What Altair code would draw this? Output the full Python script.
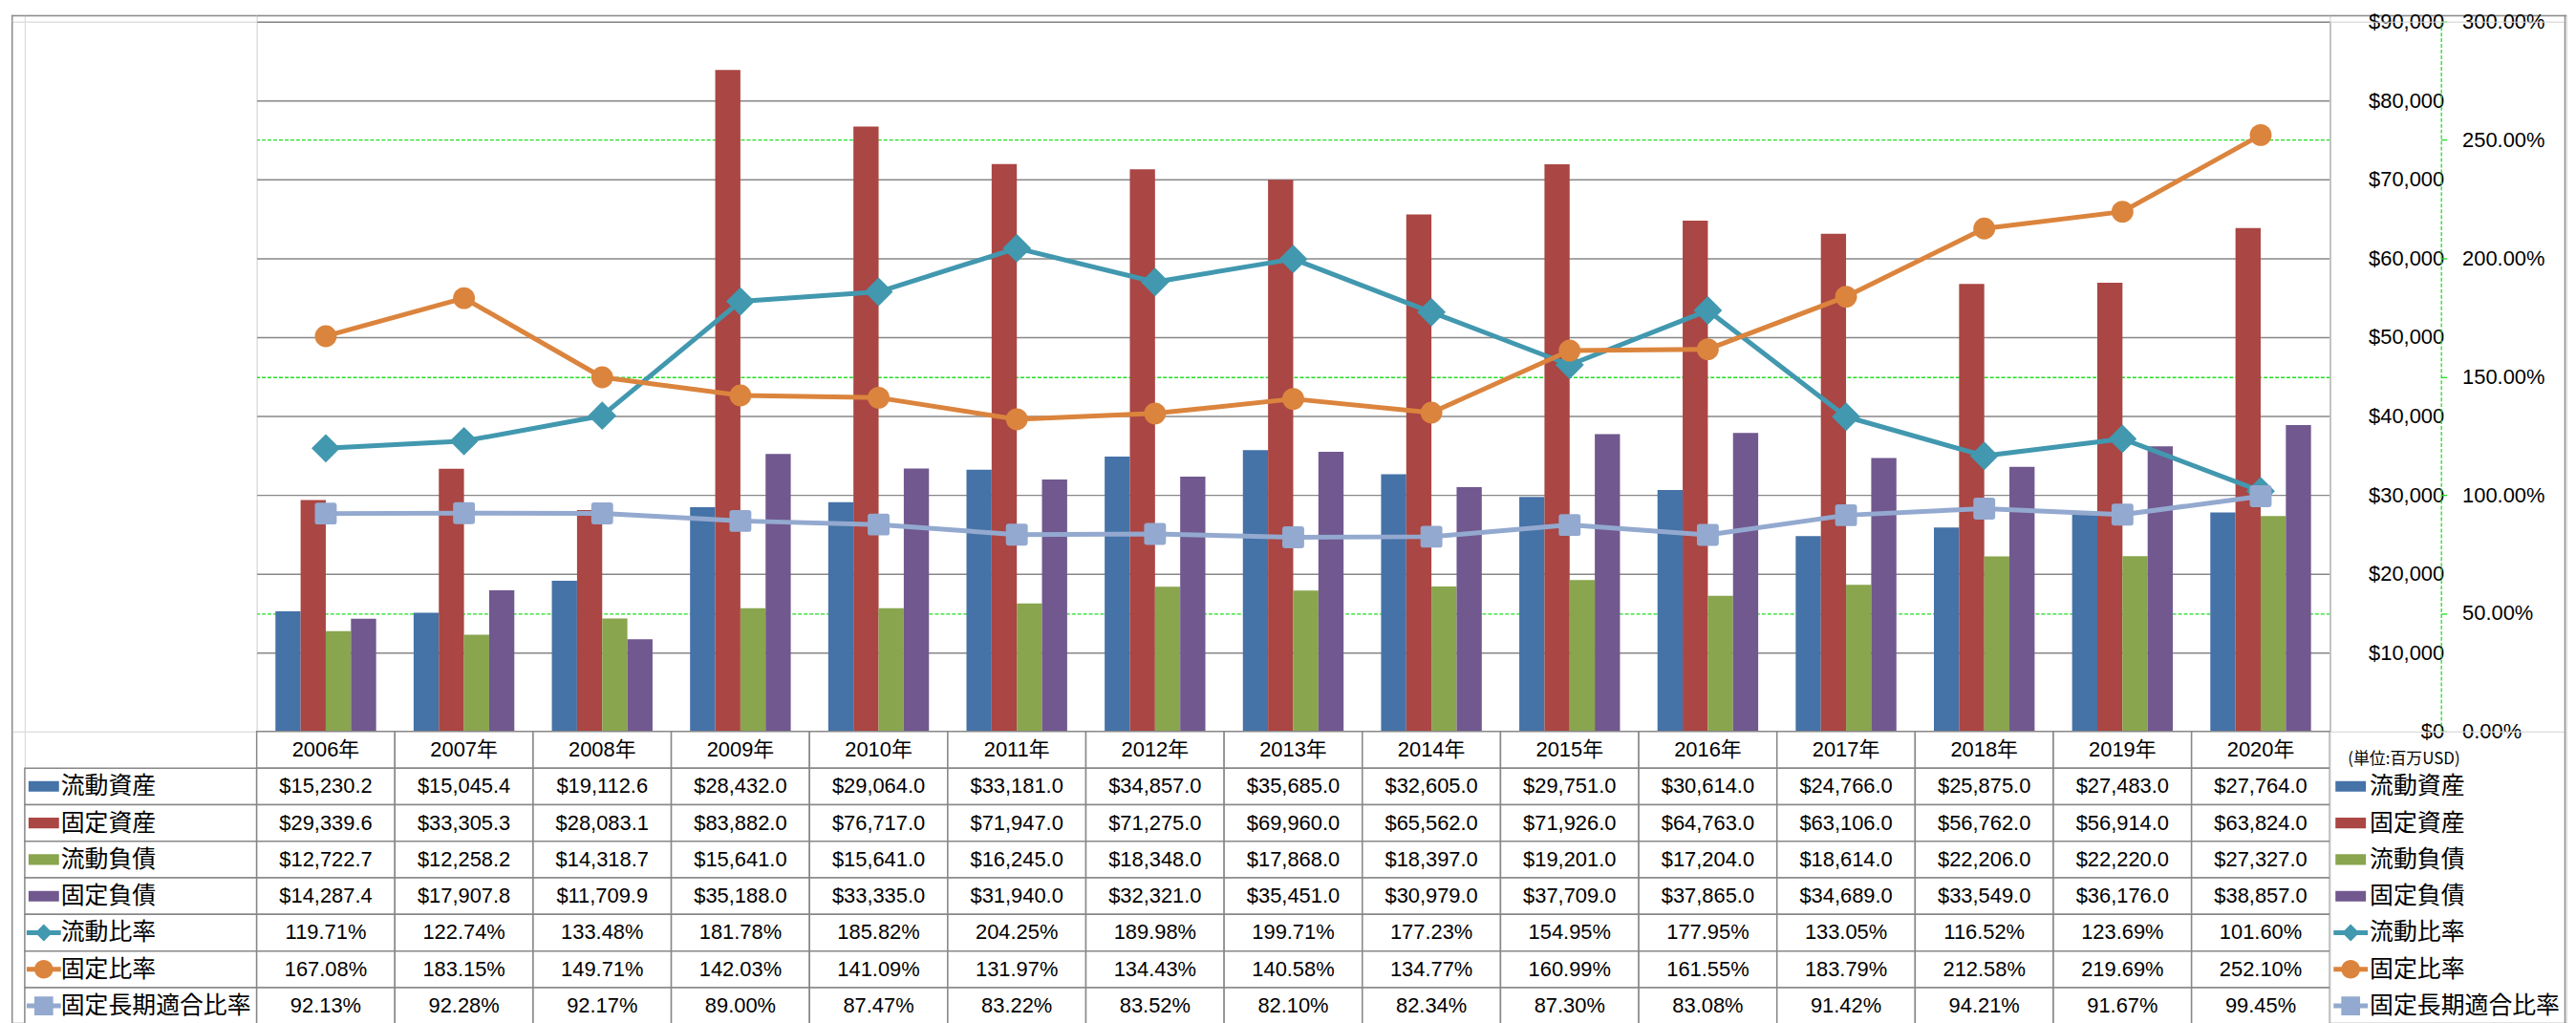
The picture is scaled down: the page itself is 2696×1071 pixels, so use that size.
import altair as alt
import pandas as pd

# ---------------- data ----------------
years = ["2006年", "2007年", "2008年", "2009年", "2010年", "2011年", "2012年", "2013年",
         "2014年", "2015年", "2016年", "2017年", "2018年", "2019年", "2020年"]

bar_series = ["流動資産", "固定資産", "流動負債", "固定負債"]
ratio_series = ["流動比率", "固定比率", "固定長期適合比率"]
all_series = bar_series + ratio_series

current_assets = [15230.2, 15045.4, 19112.6, 28432.0, 29064.0, 33181.0, 34857.0, 35685.0,
                  32605.0, 29751.0, 30614.0, 24766.0, 25875.0, 27483.0, 27764.0]
fixed_assets = [29339.6, 33305.3, 28083.1, 83882.0, 76717.0, 71947.0, 71275.0, 69960.0,
                65562.0, 71926.0, 64763.0, 63106.0, 56762.0, 56914.0, 63824.0]
current_liabilities = [12722.7, 12258.2, 14318.7, 15641.0, 15641.0, 16245.0, 18348.0, 17868.0,
                       18397.0, 19201.0, 17204.0, 18614.0, 22206.0, 22220.0, 27327.0]
fixed_liabilities = [14287.4, 17907.8, 11709.9, 35188.0, 33335.0, 31940.0, 32321.0, 35451.0,
                     30979.0, 37709.0, 37865.0, 34689.0, 33549.0, 36176.0, 38857.0]

current_ratio = [119.71, 122.74, 133.48, 181.78, 185.82, 204.25, 189.98, 199.71,
                 177.23, 154.95, 177.95, 133.05, 116.52, 123.69, 101.60]
fixed_ratio = [167.08, 183.15, 149.71, 142.03, 141.09, 131.97, 134.43, 140.58,
               134.77, 160.99, 161.55, 183.79, 212.58, 219.69, 252.10]
fixed_long_term_ratio = [92.13, 92.28, 92.17, 89.00, 87.47, 83.22, 83.52, 82.10,
                         82.34, 87.30, 83.08, 91.42, 94.21, 91.67, 99.45]

bar_values = [current_assets, fixed_assets, current_liabilities, fixed_liabilities]
ratio_values = [current_ratio, fixed_ratio, fixed_long_term_ratio]

colors = ["#4572A7", "#AA4643", "#89A54E", "#71588F", "#4198AF", "#DB843D", "#93A9CF"]
unit_label = "(単位:百万USD)"

# ---------------- tables ----------------
bar_df = pd.DataFrame([
    {"year": y, "series": s, "value": v}
    for s, vals in zip(bar_series, bar_values) for y, v in zip(years, vals)
])
ratio_df = pd.DataFrame([
    {"year": y, "series": s, "value": v / 100.0}
    for s, vals in zip(ratio_series, ratio_values) for y, v in zip(years, vals)
])

table_rows = [{"row": "hdr", "year": y, "text": y} for y in years]
for s, vals in zip(bar_series, bar_values):
    table_rows += [{"row": s, "year": y, "text": f"${v:,.1f}"} for y, v in zip(years, vals)]
for s, vals in zip(ratio_series, ratio_values):
    table_rows += [{"row": s, "year": y, "text": f"{v:.2f}%"} for y, v in zip(years, vals)]
table_df = pd.DataFrame(table_rows)

label_df = pd.DataFrame({"row": all_series, "label": all_series})
unit_df = pd.DataFrame({"row": ["hdr"], "label": [unit_label]})

# ---------------- style ----------------
FONT = "Liberation Sans, Noto Sans CJK JP"
CJK = "Noto Sans CJK JP"
GRAY = "#878787"
FRAME = "#8a8a8a"
GREEN = "#22DD22"

W = 2181      # plot width
H = 747       # plot height
TH = 308      # table height
TOP = 7
LEFT_A = 14
LEFT_B = 244
RIGHT = 249

color_scale = alt.Scale(domain=all_series, range=colors)
xscale = alt.Scale(domain=years, paddingInner=0, paddingOuter=0)
X = alt.X("year:N", scale=xscale, axis=None)

# legend swatch paths (unit box -1..1)
bar_path = "M-0.89,-0.31L0.89,-0.31L0.89,0.31L-0.89,0.31Z"
diamond_path = ("M-1,-0.14L-0.36,-0.14L0,-0.5L0.36,-0.14L1,-0.14L1,0.14L0.36,0.14"
                "L0,0.5L-0.36,0.14L-1,0.14Z")
circle_path = ("M-1,-0.14L-0.53,-0.14A0.55,0.55 0 0 1 0.53,-0.14L1,-0.14L1,0.14L0.53,0.14"
               "A0.55,0.55 0 0 1 -0.53,0.14L-1,0.14Z")
square_path = ("M-1,-0.14L-0.55,-0.14L-0.55,-0.55L0.55,-0.55L0.55,-0.14L1,-0.14L1,0.14"
               "L0.55,0.14L0.55,0.55L-0.55,0.55L-0.55,0.14L-1,0.14Z")
swatch_paths = [bar_path] * 4 + [diamond_path, circle_path, square_path]
rounded_square = ("M-0.75,-1L0.75,-1Q1,-1 1,-0.75L1,0.75Q1,1 0.75,1L-0.75,1Q-1,1 -1,0.75"
                  "L-1,-0.75Q-1,-1 -0.75,-1Z")

# ---------------- main plot ----------------
bar_axis = alt.Axis(orient="right", format="$,.0f", values=list(range(0, 90001, 10000)),
                    grid=True, gridColor=GRAY, gridWidth=1.5, gridOpacity=1,
                    domain=True, domainColor=GRAY, domainWidth=1.5,
                    ticks=False, tickSize=0, labelPadding=120, labelAlign="right",
                    labelFont=FONT, labelFontSize=22, labelColor="black", title=None)

ratio_axis = alt.Axis(orient="right", format=".2%", values=[0, 0.5, 1, 1.5, 2, 2.5, 3],
                      offset=117, grid=True, gridColor=GREEN, gridDash=[4, 2], gridWidth=1.3,
                      gridOpacity={"condition": {"test": "(datum.value * 2) % 2 == 1", "value": 1},
                                   "value": 0},
                      domain=True, domainColor=GREEN, domainDash=[4, 2],
                      domainWidth=1.3, ticks=True, tickColor=GREEN, tickSize=6, tickWidth=1.3,
                      labelPadding=16, labelAlign="left", labelFont=FONT, labelFontSize=22,
                      labelColor="black", title=None)

bars = alt.Chart(bar_df).mark_bar().encode(
    x=X,
    xOffset=alt.XOffset("series:N", scale=alt.Scale(domain=bar_series, paddingInner=0,
                                                    paddingOuter=0.745)),
    y=alt.Y("value:Q", scale=alt.Scale(domain=[0, 90000], nice=False), axis=bar_axis),
    color=alt.Color("series:N", scale=color_scale, legend=None),
)

ratio_scale = alt.Scale(domain=[0, 3], nice=False)
marker_shapes = ["diamond", "circle", rounded_square]
marker_sizes = [900, 529, 529]
ratio_layers = []
for s, shp, sz in zip(ratio_series, marker_shapes, marker_sizes):
    d = ratio_df[ratio_df["series"] == s]
    base = alt.Chart(d).encode(
        x=X,
        y=alt.Y("value:Q", scale=ratio_scale, axis=ratio_axis),
        color=alt.Color("series:N", scale=color_scale, legend=None),
    )
    ratio_layers.append(base.mark_line(strokeWidth=5, strokeJoin="round", strokeCap="round"))
    ratio_layers.append(base.mark_point(filled=True, opacity=1, shape=shp, size=sz))

ratio_chart = alt.layer(*ratio_layers)
main = alt.layer(bars, ratio_chart).resolve_scale(y="independent").properties(width=W, height=H)

# ---------------- data table ----------------
row_domain = ["hdr"] + all_series
YT = alt.Y("row:N", scale=alt.Scale(domain=row_domain, paddingInner=0, paddingOuter=0), axis=None)

cells = alt.Chart(table_df).mark_rect(fill="white", stroke=GRAY, strokeWidth=1.5).encode(x=X, y=YT)
cell_text = alt.Chart(table_df).mark_text(font=FONT, fontSize=22, color="black").encode(
    x=X, y=YT, text="text:N")
table = alt.layer(cells, cell_text).properties(width=W, height=TH)


def swatch_layers(x_sw, x_txt):
    sw = alt.Chart(label_df).mark_point(filled=True, opacity=1, size=1296).encode(
        x=alt.value(x_sw), y=YT,
        shape=alt.Shape("row:N", scale=alt.Scale(domain=all_series, range=swatch_paths), legend=None),
        color=alt.Color("row:N", scale=color_scale, legend=None),
    )
    tx = alt.Chart(label_df).mark_text(font=CJK, fontSize=25, align="left", color="black").encode(
        x=alt.value(x_txt), y=YT, text="label:N")
    return sw, tx


def frame_rules(w, h, sides):
    """Outer frame segments of the picture, for the cells on its edge."""
    out = []
    one = pd.DataFrame({"v": [0]})
    for side in sides:
        if side == "left":
            enc = dict(x=alt.value(0.75), y=alt.value(0), y2=alt.value(h))
        elif side == "right":
            enc = dict(x=alt.value(w - 1.5), y=alt.value(0), y2=alt.value(h))
        elif side == "top":
            enc = dict(y=alt.value(0.75), x=alt.value(0), x2=alt.value(w))
        else:
            enc = dict(y=alt.value(h - 0.75), x=alt.value(0), x2=alt.value(w))
        out.append(alt.Chart(one).mark_rule(color=FRAME, strokeWidth=1.5).encode(**enc))
    return out


def spacer(w, h, sides=()):
    base = alt.Chart(pd.DataFrame({"v": [0]})).mark_point(opacity=0).encode(
        x=alt.value(0), y=alt.value(0))
    return alt.layer(base, *frame_rules(w, h, sides)).properties(width=w, height=h)


label_cells = alt.Chart(label_df).mark_rect(fill="white", stroke=GRAY, strokeWidth=1.5).encode(
    x=alt.value(0), x2=alt.value(LEFT_B), y=YT)
sw_l, tx_l = swatch_layers(20, 38)
label_col = alt.layer(label_cells, sw_l, tx_l).properties(width=LEFT_B, height=TH)

sw_r, tx_r = swatch_layers(22, 42)
unit_text = alt.Chart(unit_df).mark_text(font=CJK, fontSize=17, align="left", color="black",
                                         dy=10).encode(x=alt.value(19), y=YT, text="label:N")
legend_col = alt.layer(sw_r, tx_r, unit_text, *frame_rules(RIGHT, TH, ["right", "bottom"])).properties(
    width=RIGHT, height=TH)

cells_grid = [
    spacer(LEFT_A, TOP, ["left", "top"]), spacer(LEFT_B, TOP, ["top"]), spacer(W, TOP, ["top"]),
    spacer(RIGHT, TOP, ["top", "right"]),
    spacer(LEFT_A, H, ["left"]), spacer(LEFT_B, H), main, spacer(RIGHT, H, ["right"]),
    spacer(LEFT_A, TH, ["left", "bottom"]), label_col, table, legend_col,
]

chart = alt.concat(*cells_grid, columns=4, spacing=0, bounds="flush", padding=0).configure_view(
    stroke=None).configure(font=FONT)

chart.save("out.html", embed_options={"renderer": "svg", "actions": False})
